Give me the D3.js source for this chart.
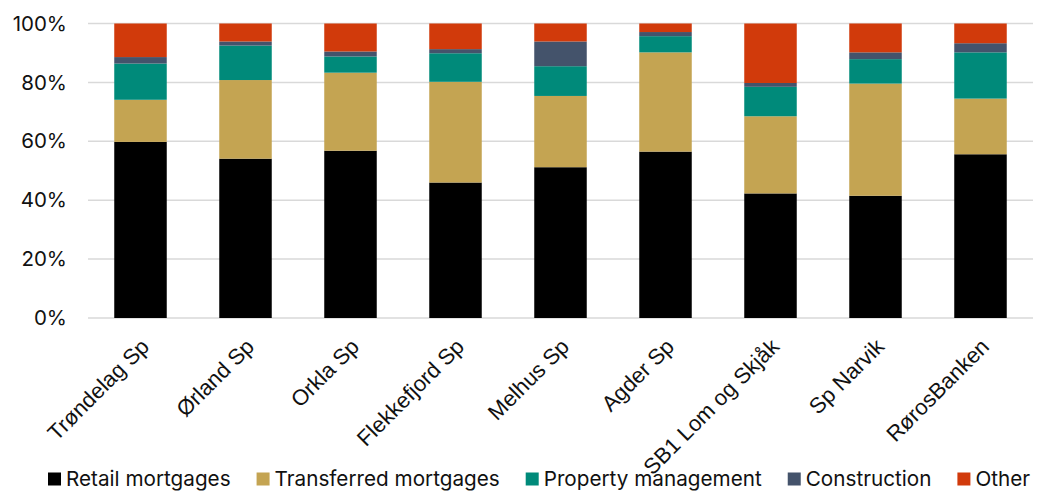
<!DOCTYPE html>
<html>
<head>
<meta charset="utf-8">
<script src="https://cdn.jsdelivr.net/npm/d3@7"></script>
<style>
  body { margin: 0; background: #fff; }
  text { font-family: Inter, "Noto Sans", sans-serif; fill: #111; }
  .xlab text { font-family: "Liberation Sans", Arial, sans-serif; }
</style>
</head>
<body>
<div id="chart"></div>
<script>
// shares per bank, in percent
const banks = ["Trøndelag Sp", "Ørland Sp", "Orkla Sp", "Flekkefjord Sp", "Melhus Sp",
  "Agder Sp", "SB1 Lom og Skjåk", "Sp Narvik", "RørosBanken"];
const retail      = [59.8, 54.1, 56.8, 46.0, 51.2, 56.5, 42.3, 41.5, 55.6];
const transferred = [14.3, 26.7, 26.5, 34.2, 24.2, 33.7, 26.2, 38.1, 18.9];
const property    = [12.3, 11.7,  5.5,  9.7, 10.1,  5.5, 10.0,  8.3, 15.7];
const construction= [ 2.2,  1.4,  1.7,  1.4,  8.4,  1.4,  1.3,  2.3,  3.1];
const other       = [11.4,  6.1,  9.5,  8.7,  6.1,  2.9, 20.2,  9.8,  6.7];
const yTicks = [0, 20, 40, 60, 80, 100];

const seriesNames = ["Retail mortgages", "Transferred mortgages", "Property management", "Construction", "Other"];
const seriesColors = ["#000000", "#c4a452", "#008a7a", "#44536b", "#d13a0b"];
const seriesValues = [retail, transferred, property, construction, other];

const width = 1040, height = 492;
const margin = { top: 23.5, right: 7, bottom: 174, left: 88 };

const rows = banks.map((b, i) => {
  const r = { bank: b };
  seriesNames.forEach((s, j) => r[s] = seriesValues[j][i]);
  return r;
});
const stacked = d3.stack().keys(seriesNames)(rows);

const x = d3.scaleBand().domain(banks)
  .range([margin.left, width - margin.right]).paddingInner(0.5).paddingOuter(0.25);
const y = d3.scaleLinear().domain([0, 100]).range([height - margin.bottom, margin.top]);

const svg = d3.select("#chart").append("svg")
  .attr("width", width).attr("height", height);

// gridlines
svg.append("g")
  .selectAll("line").data(yTicks).join("line")
  .attr("x1", margin.left).attr("x2", width - margin.right)
  .attr("y1", d => y(d)).attr("y2", d => y(d))
  .attr("stroke", "#d9d9d9").attr("stroke-width", 1.5);

// y labels
svg.append("g")
  .selectAll("text").data(yTicks).join("text")
  .attr("x", 67).attr("y", d => y(d)).attr("dy", "0.35em")
  .attr("text-anchor", "end").attr("font-size", 20.5)
  .text(d => d + "%");

// bars
svg.append("g")
  .selectAll("g").data(stacked).join("g")
  .attr("fill", (d, i) => seriesColors[i])
  .selectAll("rect").data(d => d).join("rect")
  .attr("x", d => x(d.data.bank))
  .attr("width", x.bandwidth())
  .attr("y", d => y(d[1]))
  .attr("height", d => y(d[0]) - y(d[1]));

// x labels
svg.append("g").attr("class", "xlab")
  .selectAll("text").data(banks).join("text")
  .attr("transform", d => `translate(${x(d) + x.bandwidth() / 2 + 10},${y(0) + 30}) rotate(-45)`)
  .attr("text-anchor", "end").attr("font-size", 22)
  .text(d => d);

// legend
const legend = svg.append("g").attr("transform", "translate(48,479)");
let lx = 0;
seriesNames.forEach((s, i) => {
  const g = legend.append("g").attr("transform", `translate(${lx},0)`);
  g.append("rect").attr("x", 0).attr("y", -6.5).attr("width", 13).attr("height", 13)
    .attr("fill", seriesColors[i]);
  const t = g.append("text").attr("x", 18).attr("dy", "0.35em")
    .attr("font-size", 20.7).text(s);
  lx += 18 + t.node().getComputedTextLength() + 26;
});
</script>
</body>
</html>
